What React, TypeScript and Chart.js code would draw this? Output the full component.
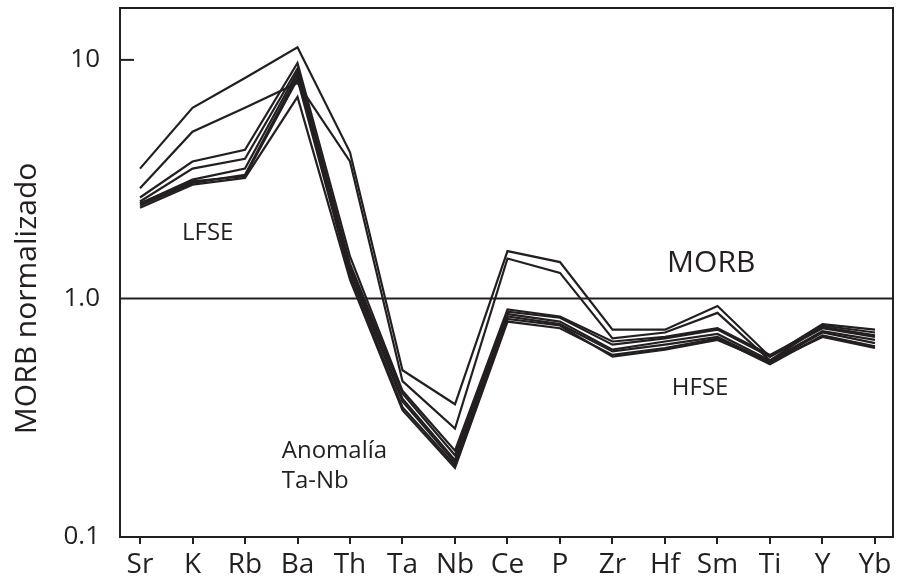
import React, { useEffect, useRef } from "react";
import { Chart, registerables } from "chart.js";

Chart.register(...registerables);

const categories = ["Sr", "K", "Rb", "Ba", "Th", "Ta", "Nb", "Ce", "P", "Zr", "Hf", "Sm", "Ti", "Y", "Yb"];
const yTickValues = [0.1, 1, 10];
const yTickLabels = ["0.1", "1.0", "10"];
const yAxisTitle = "MORB normalizado";

const sampleA = [3.5, 6.3, 8.4, 11.3, 4.1, 0.5, 0.36, 1.58, 1.42, 0.74, 0.74, 0.93, 0.57, 0.78, 0.74];
const sampleB = [2.9, 5.0, 6.3, 8.0, 3.75, 0.45, 0.285, 1.47, 1.28, 0.68, 0.72, 0.87, 0.55, 0.77, 0.72];
const sampleC = [2.65, 3.75, 4.2, 9.7, 1.5, 0.41, 0.23, 0.9, 0.84, 0.66, 0.69, 0.75, 0.58, 0.76, 0.7];
const sampleD = [2.55, 3.5, 3.85, 9.2, 1.4, 0.4, 0.22, 0.88, 0.83, 0.64, 0.68, 0.74, 0.57, 0.75, 0.69];
const sampleE = [2.5, 3.15, 3.5, 8.9, 1.35, 0.38, 0.21, 0.86, 0.8, 0.61, 0.66, 0.71, 0.55, 0.73, 0.67];
const sampleF = [2.45, 3.05, 3.3, 8.6, 1.3, 0.37, 0.205, 0.84, 0.78, 0.6, 0.64, 0.69, 0.54, 0.72, 0.65];
const sampleG = [2.4, 3.0, 3.2, 7.0, 1.2, 0.34, 0.195, 0.8, 0.75, 0.58, 0.62, 0.68, 0.53, 0.7, 0.63];
const sampleH = [2.5, 3.1, 3.25, 8.3, 1.25, 0.35, 0.2, 0.82, 0.77, 0.57, 0.61, 0.67, 0.54, 0.69, 0.62];

const samples = [sampleA, sampleB, sampleC, sampleD, sampleE, sampleF, sampleG, sampleH];

// annotation texts with data-space anchors (x = category index, y = value)
const noteTexts = ["LFSE", "MORB", "HFSE", "Anomalía", "Ta-Nb"];
const noteX = [0.8, 10.04, 10.13, 2.7, 2.7];
const noteY = [1.75, 1.285, 0.392, 0.215, 0.16];
const noteSize = [24, 30, 24, 24, 24];

const INK = "#231f20";
const FONT = "'Open Sans', 'Noto Sans', sans-serif";

const decorPlugin = {
  id: "decor",
  afterDatasetsDraw(chart: any) {
    const { ctx, chartArea } = chart;
    const xs = chart.scales.x;
    const ys = chart.scales.y;
    ctx.save();
    const y1 = ys.getPixelForValue(1);
    ctx.strokeStyle = INK;
    ctx.lineWidth = 2;
    ctx.beginPath();
    ctx.moveTo(chartArea.left, y1);
    ctx.lineTo(chartArea.right, y1);
    ctx.stroke();
    const y10 = ys.getPixelForValue(10);
    ctx.beginPath();
    ctx.moveTo(chartArea.left, y10);
    ctx.lineTo(chartArea.left + 14, y10);
    ctx.stroke();
    ctx.strokeRect(chartArea.left, chartArea.top, chartArea.right - chartArea.left, chartArea.bottom - chartArea.top);
    ctx.fillStyle = INK;
    ctx.textAlign = "left";
    ctx.textBaseline = "alphabetic";
    noteTexts.forEach((t, i) => {
      ctx.font = `${noteSize[i]}px ${FONT}`;
      ctx.fillText(t, xs.getPixelForValue(noteX[i]), ys.getPixelForValue(noteY[i]));
    });
    ctx.translate(27, ys.getPixelForValue(1));
    ctx.rotate(-Math.PI / 2);
    ctx.font = `30px ${FONT}`;
    ctx.textAlign = "center";
    ctx.textBaseline = "middle";
    ctx.fillText(yAxisTitle, 0, 0);
    ctx.restore();
  },
};

export default function App() {
  const ref = useRef<HTMLCanvasElement | null>(null);
  useEffect(() => {
    if (!ref.current) return;
    const chart = new Chart(ref.current, {
      type: "line",
      data: {
        datasets: samples.map((s) => ({
          data: s.map((v, i) => ({ x: i, y: v })),
          borderColor: INK,
          borderWidth: 2.2,
          pointRadius: 0,
          fill: false,
          tension: 0,
        })),
      },
      options: {
        animation: false,
        responsive: false,
        layout: { padding: { top: 8, right: 8, left: 0, bottom: 0 } },
        plugins: { legend: { display: false }, tooltip: { enabled: false } },
        scales: {
          x: {
            type: "linear",
            min: -0.381,
            max: 14.343,
            afterBuildTicks: (s: any) => {
              s.ticks = categories.map((_, i) => ({ value: i }));
            },
            afterFit: (s: any) => {
              s.height = 48;
              s.paddingLeft = 0;
              s.paddingRight = 0;
            },
            ticks: {
              callback: (v: any) => categories[Math.round(Number(v))] ?? "",
              color: INK,
              font: { family: FONT, size: 28 },
              padding: 4,
              maxRotation: 0,
              autoSkip: false,
            },
            grid: { display: true, drawOnChartArea: false, drawTicks: true, tickLength: 7, color: INK, lineWidth: 2 },
            border: { display: false },
          },
          y: {
            type: "logarithmic",
            min: 0.1,
            max: 16.5,
            afterBuildTicks: (s: any) => {
              s.ticks = yTickValues.map((v) => ({ value: v }));
            },
            afterFit: (s: any) => {
              s.width = 120;
              s.paddingTop = 0;
              s.paddingBottom = 0;
            },
            ticks: {
              callback: (v: any) => {
                const idx = yTickValues.findIndex((t) => Math.abs(t - Number(v)) < 1e-9);
                return idx >= 0 ? yTickLabels[idx] : "";
              },
              color: INK,
              font: { family: FONT, size: 26 },
              padding: 20,
            },
            grid: { display: false, drawTicks: false },
            border: { display: false },
          },
        },
      },
      plugins: [decorPlugin],
    });
    return () => chart.destroy();
  }, []);
  return (
    <div style={{ position: "fixed", left: 0, top: 0, width: 901, height: 585, background: "#fff" }}>
      <canvas ref={ref} width={901} height={585} style={{ width: 901, height: 585 }} />
    </div>
  );
}
